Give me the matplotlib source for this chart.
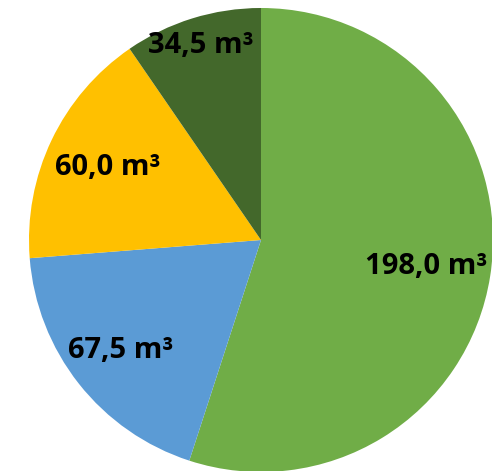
import numpy as np
import matplotlib.pyplot as plt

# Volumes per category (m³)
values = [198.0, 67.5, 60.0, 34.5]
colors = ["#70AD47", "#5B9BD5", "#FFC000", "#43682B"]
label_dist = [0.72, 0.77, 0.73, 0.88]

W, H = 492, 471
fig = plt.figure(figsize=(W / 100, H / 100), dpi=100)
ax = fig.add_axes([0, 0, 1, 1])

cx, cy, r = 261, H - 240, 232

wedges, _ = ax.pie(values, colors=colors, startangle=90, counterclock=False,
                   center=(cx, cy), radius=r, frame=True,
                   wedgeprops=dict(linewidth=0))
ax.set_xlim(0, W)
ax.set_ylim(0, H)
ax.axis("off")

for w, v, d in zip(wedges, values, label_dist):
    ang = np.deg2rad((w.theta1 + w.theta2) / 2)
    txt = f"{v:.1f}".replace(".", ",") + " m³"
    ax.text(cx + d * r * np.cos(ang), cy + d * r * np.sin(ang), txt,
            ha="center", va="center", fontsize=21, fontweight="bold",
            family="Open Sans", color="black")

fig.savefig("out.png", dpi=100)
